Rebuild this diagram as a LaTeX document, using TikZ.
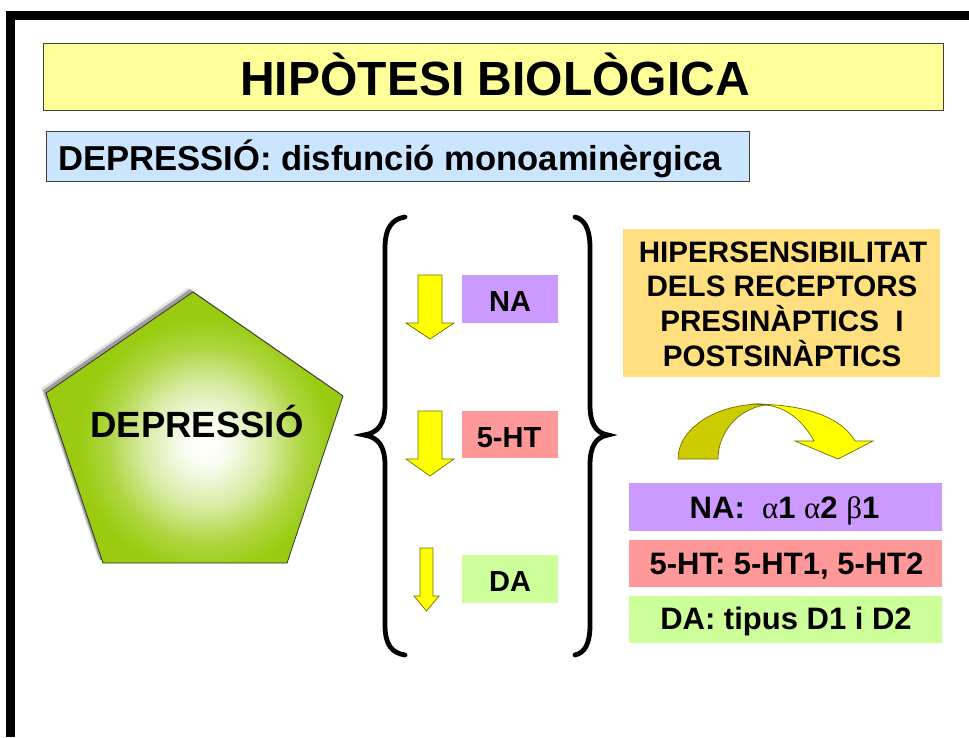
\documentclass[tikz,border=0pt]{standalone}
\usepackage{fontspec}
\setmainfont{Liberation Sans}
\newfontfamily\greekf{Liberation Serif}
\usetikzlibrary{shadows}
\definecolor{titleyellow}{HTML}{FFFF99}
\definecolor{subblue}{HTML}{CCE5FF}
\definecolor{hyperorange}{HTML}{FFDF80}
\definecolor{napurple}{HTML}{CC99FF}
\definecolor{htpink}{HTML}{FF9999}
\definecolor{dagreen}{HTML}{CCFF99}
\definecolor{pgreen}{HTML}{99CC11}
\definecolor{arrowyellow}{HTML}{FFFF00}
\definecolor{arrowolive}{HTML}{CCCC00}
\definecolor{arrowedge}{HTML}{707000}
\pgfdeclareradialshading{pentglow}{\pgfpoint{0bp}{0bp}}{color(0bp)=(white); color(3bp)=(white!94!pgreen); color(8.5bp)=(white!62!pgreen); color(13.5bp)=(white!20!pgreen); color(17.5bp)=(pgreen); color(50bp)=(pgreen)}
\begin{document}
\begin{tikzpicture}[x=1pt,y=-1pt,
  boxshadow/.style={drop shadow={shadow xshift=1.3pt,shadow yshift=-1.3pt,opacity=0.55,fill=gray}},
  headbox/.style={draw=black!75,line width=0.8pt,inner sep=0pt,boxshadow},
  plainbox/.style={inner sep=0pt,draw=none},
  txt/.style={inner sep=0pt,anchor=base,font=\bfseries},
  downarrow/.style={fill=arrowyellow,draw=arrowedge,line width=0.7pt,line join=miter},
  bracestyle/.style={draw=black,line width=4.8pt,line cap=round}
]
\useasboundingbox (0,0) rectangle (969,737);
% frame
\fill[black] (6,11) rectangle (969,20);
\fill[black] (6,11) rectangle (15,737);

% title
\node[headbox,fill=titleyellow,minimum width=900pt,minimum height=67pt] (titlebox) at (493,76.5) {};
\node[txt,font=\bfseries\fontsize{48}{56}\selectfont] (titletext) at (495,95) {HIPÒTESI BIOLÒGICA};

% subtitle
\node[headbox,fill=subblue,minimum width=703pt,minimum height=50pt] (subbox) at (397.5,156) {};
\node[txt,anchor=base west,font=\bfseries\fontsize{34.6}{40}\selectfont] (subtext) at (58,170) {DEPRESSIÓ: disfunció monoaminèrgica};

% pentagon
\coordinate (pT) at (193,292);
\coordinate (pL) at (46,393);
\coordinate (pR) at (343,396);
\coordinate (pBL) at (103,563);
\coordinate (pBR) at (287,563);
\fill[gray!22] ([shift={(-5,-4.5)}]pT) -- ([shift={(-5,-4.5)}]pR) -- ([shift={(-5,-4.5)}]pBR) -- ([shift={(-5,-4.5)}]pBL) -- ([shift={(-5,-4.5)}]pL) -- cycle;
\fill[gray!75] ([shift={(-3,-2.8)}]pT) -- ([shift={(-3,-2.8)}]pR) -- ([shift={(-3,-2.8)}]pBR) -- ([shift={(-3,-2.8)}]pBL) -- ([shift={(-3,-2.8)}]pL) -- cycle;
\begin{scope}
  \clip (pT) -- (pR) -- (pBR) -- (pBL) -- (pL) -- cycle;
  \fill[pgreen] (0,250) rectangle (400,600);
  \shade[shading=pentglow] (205,445) circle (180);
\end{scope}
\draw[black!80,line width=0.8pt,line join=miter] (pT) -- (pR) -- (pBR) -- (pBL) -- (pL) -- cycle;
\node[txt,font=\bfseries\fontsize{36.5}{42}\selectfont] (deptext) at (197,437) {DEPRESSIÓ};

% braces
\draw[bracestyle] (405,217) .. controls (392,219) and (385,228) .. (385,248) -- (385,405) .. controls (385,424) and (378,433) .. (364,435) .. controls (378,437) and (385,446) .. (385,465) -- (385,625) .. controls (385,645) and (392,653) .. (405,655);
\draw[bracestyle] (575,217) .. controls (584,219) and (590,228) .. (590,248) -- (590,405) .. controls (590,424) and (596,433) .. (608,435) .. controls (596,437) and (590,446) .. (590,465) -- (590,625) .. controls (590,645) and (584,653) .. (575,655);

% down arrows
\draw[downarrow] (418,275) -- (442,275) -- (442,323) -- (454,323) -- (430,339) -- (406,323) -- (418,323) -- cycle;
\draw[downarrow] (418,411) -- (442,411) -- (442,459) -- (454,459) -- (430,476) -- (406,459) -- (418,459) -- cycle;
\draw[downarrow] (420,548) -- (433,548) -- (433,596) -- (439,596) -- (426.5,611) -- (414,596) -- (420,596) -- cycle;

% neurotransmitter boxes
\node[plainbox,fill=napurple,minimum width=96pt,minimum height=48pt] (nabox) at (510,299) {};
\node[txt,font=\bfseries\fontsize{29}{34}\selectfont] (natext) at (510,311) {NA};
\node[plainbox,fill=htpink,minimum width=96pt,minimum height=47pt] (htbox) at (510,434.5) {};
\node[txt,font=\bfseries\fontsize{29}{34}\selectfont] (httext) at (509,447) {5-HT};
\node[plainbox,fill=dagreen,minimum width=96pt,minimum height=48pt] (dabox) at (510,579) {};
\node[txt,font=\bfseries\fontsize{29}{34}\selectfont] (datext) at (510,591) {DA};

% hypersensitivity box
\node[plainbox,fill=hyperorange,minimum width=317pt,minimum height=148pt] (hyperbox) at (781.5,303) {};
\node[txt,font=\bfseries\fontsize{29.6}{34}\selectfont] (hyp1) at (783,262) {HIPERSENSIBILITAT};
\node[txt,font=\bfseries\fontsize{29.6}{34}\selectfont] (hyp2) at (782,296.5) {DELS RECEPTORS};
\node[txt,font=\bfseries\fontsize{29.6}{34}\selectfont] (hyp3) at (782,331.5) {PRESINÀPTICS\ \ I};
\node[txt,font=\bfseries\fontsize{29.6}{34}\selectfont] (hyp4) at (782,366) {POSTSINÀPTICS};

% curved arrow
\draw[fill=arrowolive,draw=arrowedge,line width=0.7pt] (678,459) arc[start angle=180,end angle=270,x radius=84,y radius=55] -- (765,405) .. controls (735,410) and (718,435) .. (718,459) -- cycle;
\draw[fill=arrowyellow,draw=arrowedge,line width=0.7pt,line join=miter] (752,404) .. controls (800,404) and (840,415) .. (855,441) -- (873,441) -- (838,459) -- (795,441) -- (814,441) .. controls (806,426) and (790,407) .. (765,405) -- cycle;

% receptor boxes
\node[plainbox,fill=napurple,minimum width=313pt,minimum height=48pt] (narbox) at (785.5,507) {};
\node[txt,font=\bfseries\fontsize{31}{36}\selectfont] (nartext) at (784.5,518) {NA:\ \ {\greekf\mdseries α}1 {\greekf\mdseries α}2 {\greekf\mdseries β}1};
\node[plainbox,fill=htpink,minimum width=313pt,minimum height=47pt] (htrbox) at (785.5,563.5) {};
\node[txt,font=\bfseries\fontsize{31}{36}\selectfont] (htrtext) at (786.5,574) {5-HT: 5-HT1, 5-HT2};
\node[plainbox,fill=dagreen,minimum width=313pt,minimum height=47pt] (darbox) at (785.5,619.5) {};
\node[txt,font=\bfseries\fontsize{31}{36}\selectfont] (dartext) at (786,629) {DA: tipus D1 i D2};
\end{tikzpicture}
\end{document}
